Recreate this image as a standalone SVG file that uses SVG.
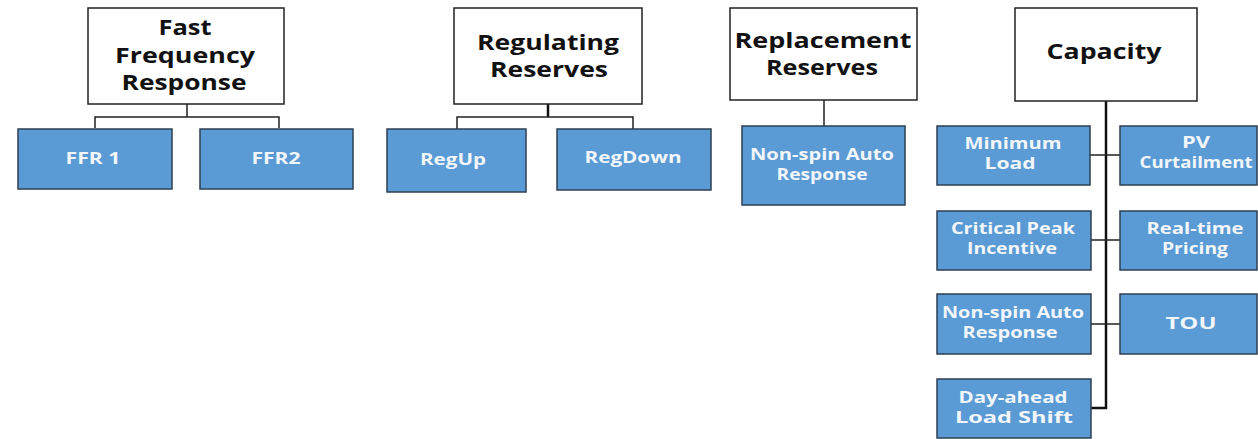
<svg xmlns="http://www.w3.org/2000/svg" width="1258" height="439" viewBox="0 0 1258 439">
<style>
.top{fill:#fff;stroke:#222;stroke-width:1.5}
.leaf{fill:#5b9bd5;stroke:#2e3f52;stroke-width:1.5}
.tt{font-family:"Open Sans","Liberation Sans",sans-serif;font-weight:bold;font-size:21px;fill:#111;text-anchor:middle}
.lt{font-family:"Open Sans","Liberation Sans",sans-serif;font-weight:bold;font-size:16.5px;fill:#f2f6fa;text-anchor:middle}
.c{fill:none;stroke:#222;stroke-width:1.5}
.ct{fill:none;stroke:#111;stroke-width:2.5}
</style>
<rect width="1258" height="439" fill="#fff"/>
<g id="connectors">
<path class="c" d="M187 104V117M95 128V117H279V128"/>
<path class="ct" d="M548 104V117"/>
<path class="c" d="M457 129V117H633V129"/>
<path class="c" d="M824 100V126"/>
<path class="ct" d="M1106 101V408H1091"/>
<path class="c" d="M1090 155H1120M1090 240H1120M1090 324H1120"/>
</g>
<g id="ffr"><rect class="top" x="88" y="8" width="196" height="96"/>
<text class="tt" x="185" y="35" textLength="53" lengthAdjust="spacingAndGlyphs">Fast</text><text class="tt" x="185" y="63" textLength="140" lengthAdjust="spacingAndGlyphs">Frequency</text><text class="tt" x="184" y="90" textLength="125" lengthAdjust="spacingAndGlyphs">Response</text></g>
<g id="ffr1"><rect class="leaf" x="18" y="129" width="154" height="60"/><text class="lt" x="93" y="164" textLength="55" lengthAdjust="spacingAndGlyphs">FFR 1</text></g>
<g id="ffr2"><rect class="leaf" x="200" y="129" width="153" height="60"/><text class="lt" x="276" y="164" textLength="49" lengthAdjust="spacingAndGlyphs">FFR2</text></g>
<g id="reg"><rect class="top" x="454" y="8" width="188" height="96"/>
<text class="tt" x="548" y="50" textLength="142" lengthAdjust="spacingAndGlyphs">Regulating</text><text class="tt" x="549" y="77" textLength="118" lengthAdjust="spacingAndGlyphs">Reserves</text></g>
<g id="regup"><rect class="leaf" x="387" y="129" width="139" height="63"/><text class="lt" x="453" y="165" textLength="66" lengthAdjust="spacingAndGlyphs">RegUp</text></g>
<g id="regdown"><rect class="leaf" x="557" y="129" width="154" height="61"/><text class="lt" x="633" y="163" textLength="97" lengthAdjust="spacingAndGlyphs">RegDown</text></g>
<g id="rep"><rect class="top" x="730" y="8" width="187" height="92"/>
<text class="tt" x="823" y="48" textLength="177" lengthAdjust="spacingAndGlyphs">Replacement</text><text class="tt" x="822" y="75" textLength="112" lengthAdjust="spacingAndGlyphs">Reserves</text></g>
<g id="nsar"><rect class="leaf" x="742" y="126" width="163" height="79"/><text class="lt" x="822" y="160" textLength="144" lengthAdjust="spacingAndGlyphs">Non-spin Auto</text><text class="lt" x="822" y="180" textLength="91" lengthAdjust="spacingAndGlyphs">Response</text></g>
<g id="cap"><rect class="top" x="1015" y="8" width="182" height="93"/>
<text class="tt" x="1104" y="59" textLength="115" lengthAdjust="spacingAndGlyphs">Capacity</text></g>
<g id="minload"><rect class="leaf" x="937" y="126" width="153" height="59"/><text class="lt" x="1013" y="149" textLength="97" lengthAdjust="spacingAndGlyphs">Minimum</text><text class="lt" x="1010" y="169" textLength="51" lengthAdjust="spacingAndGlyphs">Load</text></g>
<g id="pv"><rect class="leaf" x="1120" y="126" width="137" height="59"/><text class="lt" x="1196" y="148" textLength="28" lengthAdjust="spacingAndGlyphs">PV</text><text class="lt" x="1196" y="168" textLength="113" lengthAdjust="spacingAndGlyphs">Curtailment</text></g>
<g id="cpi"><rect class="leaf" x="937" y="211" width="154" height="59"/><text class="lt" x="1013" y="234" textLength="124" lengthAdjust="spacingAndGlyphs">Critical Peak</text><text class="lt" x="1012" y="254" textLength="90" lengthAdjust="spacingAndGlyphs">Incentive</text></g>
<g id="rtp"><rect class="leaf" x="1120" y="211" width="137" height="59"/><text class="lt" x="1195" y="234" textLength="97" lengthAdjust="spacingAndGlyphs">Real-time</text><text class="lt" x="1195" y="254" textLength="66" lengthAdjust="spacingAndGlyphs">Pricing</text></g>
<g id="nsar2"><rect class="leaf" x="937" y="294" width="154" height="60"/><text class="lt" x="1013" y="318" textLength="142" lengthAdjust="spacingAndGlyphs">Non-spin Auto</text><text class="lt" x="1010" y="338" textLength="95" lengthAdjust="spacingAndGlyphs">Response</text></g>
<g id="tou"><rect class="leaf" x="1120" y="294" width="137" height="60"/><text class="lt" x="1191" y="329" textLength="51" lengthAdjust="spacingAndGlyphs">TOU</text></g>
<g id="dals"><rect class="leaf" x="937" y="379" width="154" height="59"/><text class="lt" x="1013" y="403" textLength="109" lengthAdjust="spacingAndGlyphs">Day-ahead</text><text class="lt" x="1014" y="423" textLength="118" lengthAdjust="spacingAndGlyphs">Load Shift</text></g>
</svg>
